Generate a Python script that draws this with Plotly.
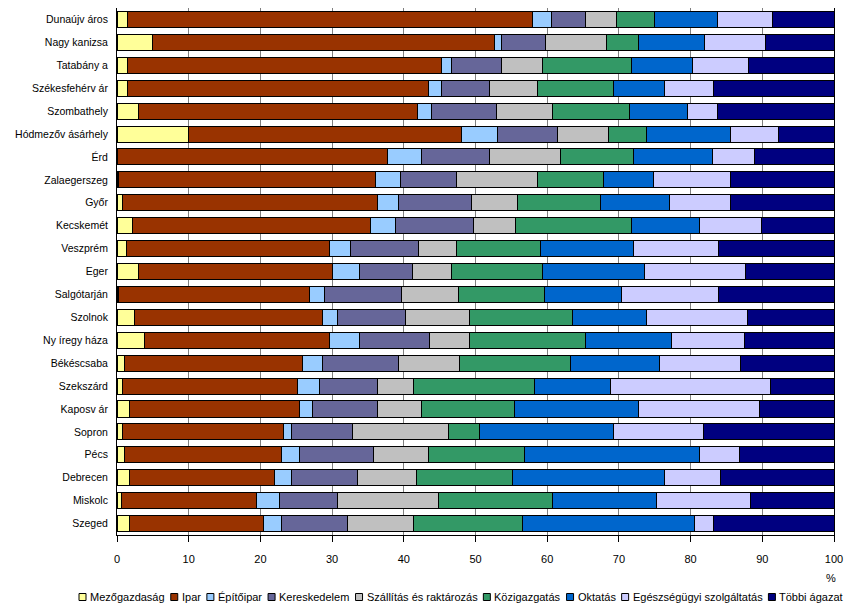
import plotly.graph_objects as go

cities = ["Dunaújváros", "Nagykanizsa", "Tatabánya", "Székesfehérvár", "Szombathely",
          "Hódmezővásárhely", "Érd", "Zalaegerszeg", "Győr", "Kecskemét", "Veszprém",
          "Eger", "Salgótarján", "Szolnok", "Nyíregyháza", "Békéscsaba", "Szekszárd",
          "Kaposvár", "Sopron", "Pécs", "Debrecen", "Miskolc", "Szeged"]
city_labels = ["Dunaújv áros", "Nagy kanizsa", "Tatabány a", "Székesfehérv ár", "Szombathely",
               "Hódmezőv ásárhely", "Érd", "Zalaegerszeg", "Győr", "Kecskemét", "Veszprém",
               "Eger", "Salgótarján", "Szolnok", "Ny íregy háza", "Békéscsaba", "Szekszárd",
               "Kaposv ár", "Sopron", "Pécs", "Debrecen", "Miskolc", "Szeged"]

mezogazdasag = [1.4, 4.9, 1.4, 1.4, 3.0, 10.0, 0.0, 0.2, 0.8, 2.2, 1.3, 3.0, 0.2, 2.5, 3.8, 1.0, 0.7, 1.7, 0.8, 1.0, 1.8, 0.6, 1.8]
ipar = [56.6, 47.8, 43.9, 42.1, 38.9, 38.1, 37.7, 35.8, 35.6, 33.2, 28.3, 27.1, 26.6, 26.2, 25.8, 24.9, 24.5, 23.7, 22.4, 22.0, 20.1, 18.9, 18.7]
epitoipar = [2.6, 0.9, 1.4, 1.8, 1.9, 4.9, 4.8, 3.5, 2.8, 3.4, 2.9, 3.7, 2.2, 2.1, 4.2, 2.7, 3.1, 1.8, 1.2, 2.4, 2.5, 3.1, 2.5]
kereskedelem = [4.7, 6.2, 6.9, 6.7, 9.1, 8.5, 9.4, 7.9, 10.2, 10.9, 9.5, 7.4, 10.7, 9.5, 9.8, 10.7, 8.1, 9.1, 8.4, 10.4, 9.2, 8.2, 9.2]
szallitas = [4.4, 8.5, 5.8, 6.6, 7.8, 7.1, 9.9, 11.3, 6.5, 5.9, 5.3, 5.4, 7.9, 8.8, 5.6, 8.4, 4.9, 6.1, 13.5, 7.7, 8.2, 14.1, 9.1]
kozigazgatas = [5.2, 4.5, 12.4, 10.6, 10.8, 5.2, 10.3, 9.2, 11.6, 16.2, 11.7, 12.8, 12.0, 14.4, 16.1, 15.5, 16.9, 13.0, 4.2, 13.3, 13.3, 15.8, 15.3]
oktatas = [8.9, 9.1, 8.5, 7.1, 8.0, 11.7, 11.0, 6.9, 9.6, 9.5, 13.1, 14.1, 10.8, 10.4, 12.0, 12.4, 10.6, 17.3, 18.7, 24.4, 21.2, 14.6, 24.0]
egeszsegugy = [7.6, 8.6, 7.8, 6.9, 4.3, 6.8, 5.8, 10.7, 8.4, 8.6, 11.8, 14.2, 13.5, 14.1, 10.2, 11.4, 22.4, 16.9, 12.6, 5.6, 7.8, 13.1, 2.6]
tobbi = [8.6, 9.5, 11.9, 16.8, 16.2, 7.7, 11.1, 14.5, 14.5, 10.1, 16.1, 12.3, 16.1, 12.0, 12.5, 13.0, 8.8, 10.4, 18.2, 13.2, 15.9, 11.6, 16.8]

series_names = ["Mezőgazdaság", "Ipar", "Építőipar", "Kereskedelem", "Szállítás és raktározás",
                "Közigazgatás", "Oktatás", "Egészségügyi szolgáltatás", "Többi ágazat"]
series_values = [mezogazdasag, ipar, epitoipar, kereskedelem, szallitas,
                 kozigazgatas, oktatas, egeszsegugy, tobbi]
colors = ["#FFFF99", "#993300", "#99CCFF", "#666699", "#C0C0C0",
          "#339966", "#0066CC", "#CCCCFF", "#000080"]

x_ticks = [0, 10, 20, 30, 40, 50, 60, 70, 80, 90, 100]

FONT = "Liberation Sans, Arial, sans-serif"

fig = go.Figure()
for name, vals, col in zip(series_names, series_values, colors):
    fig.add_trace(go.Bar(
        y=cities, x=vals, name=name, orientation="h",
        marker=dict(color=col, line=dict(color="#000000", width=1)),
        showlegend=False,
    ))

OFF = 8  # page body margin
W, H = 855 - OFF, 615 - OFF
ml, mt = 117 - OFF, 0
pw, ph = 717, 527
mr = W - ml - pw
mb = H - mt - ph

def px_x(p):
    return (p - OFF - ml) / pw

def px_y(p):
    return (OFF + mt + ph - p) / ph

# approximate Arial/Liberation Sans advance widths (per 1000 em) for legend layout
_w = {" ": 278, "a": 556, "á": 556, "b": 556, "d": 556, "e": 556, "é": 556, "g": 556,
      "i": 222, "í": 278, "k": 500, "l": 222, "m": 833, "n": 556, "o": 556, "ő": 556,
      "ö": 556, "p": 556, "r": 333, "s": 500, "t": 278, "u": 556, "ü": 556, "y": 500,
      "z": 500, "M": 833, "I": 278, "É": 667, "K": 667, "S": 667, "O": 778, "E": 667,
      "T": 611}

def text_w(s, size):
    return sum(_w.get(c, 556) for c in s) * size / 1000.0

LEG_SIZE = 11
BOX = 7
BOX_GAP = 3
legend_left, legend_right = 79, 842
text_widths = [text_w(n, LEG_SIZE) for n in series_names]
total_fixed = sum(text_widths) + len(series_names) * (BOX + BOX_GAP)
item_gap = (legend_right - legend_left - total_fixed) / (len(series_names) - 1)

legend_y = 597
shapes = []
annotations = []
bx = legend_left
for name, col, tw in zip(series_names, colors, text_widths):
    shapes.append(dict(type="rect", xref="paper", yref="paper",
                       x0=px_x(bx), x1=px_x(bx + BOX),
                       y0=px_y(legend_y + 3.5), y1=px_y(legend_y - 3.5),
                       fillcolor=col, line=dict(color="#000000", width=1)))
    annotations.append(dict(xref="paper", yref="paper", x=px_x(bx + BOX + BOX_GAP - 1), y=px_y(legend_y),
                            text=name, showarrow=False, xanchor="left", yanchor="middle",
                            font=dict(family=FONT, size=LEG_SIZE, color="#000000")))
    bx += BOX + BOX_GAP + tw + item_gap

annotations.append(dict(xref="paper", yref="paper", x=px_x(838), y=px_y(578),
                        text="%", showarrow=False, xanchor="right", yanchor="middle",
                        font=dict(family=FONT, size=11, color="#000000")))

fig.update_layout(
    barmode="stack",
    bargap=0.3,
    width=W, height=H,
    margin=dict(l=ml, r=mr, t=mt, b=mb, pad=0),
    paper_bgcolor="#FFFFFF",
    plot_bgcolor="#FFFFFF",
    font=dict(family=FONT, size=11, color="#000000"),
    shapes=shapes,
    annotations=annotations,
    xaxis=dict(
        range=[0, 100], tickvals=x_ticks, ticktext=[str(t) for t in x_ticks],
        showgrid=True, gridcolor="#808080", gridwidth=1,
        showline=True, linecolor="#000000", linewidth=1, mirror=True,
        ticks="outside", ticklen=6, tickcolor="#000000",
        ticklabelstandoff=8,
        zeroline=False, fixedrange=True,
        tickfont=dict(family=FONT, size=11, color="#000000"),
    ),
    yaxis=dict(
        categoryorder="array", categoryarray=cities,
        tickvals=cities, ticktext=city_labels,
        autorange="reversed",
        showline=True, linecolor="#000000", linewidth=1, mirror=True,
        ticks="", ticklabelstandoff=6,
        showgrid=False, fixedrange=True,
        tickfont=dict(family=FONT, size=10.5, color="#000000"),
    ),
)

fig.write_html("out.html")
